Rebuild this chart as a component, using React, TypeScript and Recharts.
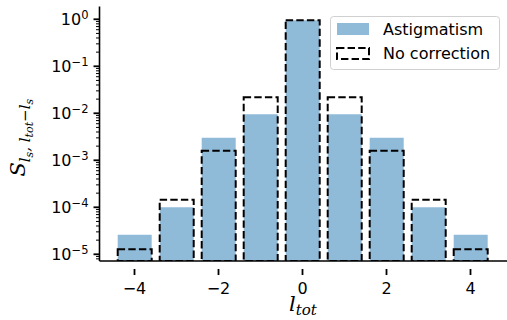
import React from 'react'
import { BarChart, Bar, XAxis, YAxis, Legend } from 'recharts'

// values
const L_TOT = [-4, -3, -2, -1, 0, 1, 2, 3, 4]
const ASTIGMATISM = [2.6e-5, 1.0e-4, 3.0e-3, 9.5e-3, 0.95, 9.5e-3, 3.0e-3, 1.0e-4, 2.6e-5]
const NO_CORRECTION = [1.28e-5, 1.45e-4, 1.6e-3, 2.2e-2, 0.95, 2.2e-2, 1.6e-3, 1.45e-4, 1.28e-5]
const X_TICK_LABELS = [-4, -2, 0, 2, 4]
const Y_MAJOR = [1e-5, 1e-4, 1e-3, 1e-2, 1e-1, 1e0]
const Y_MAJOR_LABELS = ['−5', '−4', '−3', '−2', '−1', '0']
const Y_DOMAIN = [7.2e-6, 1.87]

const BLUE = '#8fbbd9'
const FONT = 'DejaVu Sans, sans-serif'
const MATH = 'DejaVu Serif, serif'

const data = L_TOT.map((l, i) => ({ l, astig: ASTIGMATISM[i], nocorr: NO_CORRECTION[i] }))

// minor log ticks (2..9 x 10^n) inside the domain
const Y_MINOR: number[] = []
for (let e = -6; e <= 0; e++) {
  for (let k = 2; k <= 9; k++) {
    const v = k * Math.pow(10, e)
    if (v >= Y_DOMAIN[0] && v <= Y_DOMAIN[1]) Y_MINOR.push(v)
  }
}
const Y_TICKS = [...Y_MAJOR, ...Y_MINOR].sort((a, b) => a - b)

const YTick = (props: any) => {
  const { x, y, payload } = props
  const idx = Y_MAJOR.findIndex((v) => Math.abs(v - payload.value) / v < 1e-6)
  if (idx < 0) {
    return <line x1={x - 3.5} x2={x} y1={y} y2={y} stroke="#000" strokeWidth={1} />
  }
  return (
    <g>
      <line x1={x - 6} x2={x} y1={y} y2={y} stroke="#000" strokeWidth={1.8} />
      <text x={x - 11} y={y + 6} textAnchor="end" fontFamily={FONT} fontSize={16} fill="#000">
        <tspan>10</tspan>
        <tspan dy={-6.5} fontSize={11.5}>{Y_MAJOR_LABELS[idx]}</tspan>
      </text>
    </g>
  )
}

const XTick = (props: any) => {
  const { x, y, payload } = props
  if (!X_TICK_LABELS.includes(payload.value)) return <g />
  const v = payload.value
  const label = v < 0 ? `−${Math.abs(v)}` : `${v}`
  return (
    <g>
      <line x1={x} x2={x} y1={y} y2={y + 6} stroke="#000" strokeWidth={1.8} />
      <text x={x} y={y + 25} textAnchor="middle" fontFamily={FONT} fontSize={16} fill="#000">
        {label}
      </text>
    </g>
  )
}

const YLabel = (props: any) => {
  const vb = props.viewBox || { x: 0, y: 0, width: 0, height: 0 }
  const cx = vb.x + 25
  const cy = vb.y + vb.height / 2 + 4
  return (
    <text
      transform={`translate(${cx},${cy}) rotate(-90)`}
      textAnchor="middle"
      fontFamily={MATH}
      fontStyle="italic"
      fontSize={21}
      fill="#000"
    >
      <tspan>S</tspan>
      <tspan dy={5} fontSize={15}>l</tspan>
      <tspan dy={3} fontSize={11}>s</tspan>
      <tspan dy={-3} fontSize={15}>, l</tspan>
      <tspan dy={3} fontSize={11}>tot</tspan>
      <tspan dy={-3} fontSize={15}>−l</tspan>
      <tspan dy={3} fontSize={11}>s</tspan>
    </text>
  )
}

const XLabel = (props: any) => {
  const vb = props.viewBox || { x: 0, y: 0, width: 0, height: 0 }
  return (
    <text x={303} y={vb.y + 50} textAnchor="middle" fontFamily={MATH} fontStyle="italic" fontSize={21} fill="#000">
      <tspan>l</tspan>
      <tspan dy={4} fontSize={15}>tot</tspan>
    </text>
  )
}

const LegendBox = () => (
  <svg width={170} height={54} style={{ display: 'block' }}>
    <rect x={0.5} y={0.5} width={169} height={53} rx={3} fill="#fff" fillOpacity={0.8} stroke="#d0d0d0" />
    <rect x={7} y={7} width={32} height={12} fill={BLUE} />
    <text x={53} y={19} fontFamily={FONT} fontSize={16} fill="#000">Astigmatism</text>
    <rect x={7} y={32} width={32} height={11} fill="none" stroke="#000" strokeWidth={2} strokeDasharray="7.4 3.2" />
    <text x={53} y={43} fontFamily={FONT} fontSize={16} fill="#000">No correction</text>
  </svg>
)

export default function App() {
  return (
    <div style={{ position: 'absolute', left: 0, top: 0, width: 507, height: 320, overflow: 'hidden', background: '#fff' }}>
      <BarChart
        width={515}
        height={320}
        data={data}
        margin={{ top: 6.5, right: 0, bottom: 0, left: 0 }}
        barCategoryGap="10%"
      >
        <XAxis
          xAxisId="a"
          dataKey="l"
          height={59}
          padding={{ left: 14, right: 23.5 }}
          interval={0}
          tickLine={false}
          tick={<XTick />}
          axisLine={{ stroke: '#000', strokeWidth: 1.6 }}
          label={<XLabel />}
        />
        <XAxis
          xAxisId="b"
          dataKey="l"
          orientation="top"
          height={0}
          padding={{ left: 14, right: 23.5 }}
          tick={false}
          tickLine={false}
          axisLine={{ stroke: '#555', strokeWidth: 1 }}
        />
        <YAxis
          scale="log"
          domain={Y_DOMAIN}
          allowDataOverflow
          width={99.5}
          ticks={Y_TICKS}
          interval={0}
          tickSize={0}
          tickMargin={0}
          tickLine={false}
          tick={<YTick />}
          axisLine={{ stroke: '#000', strokeWidth: 1.6 }}
          label={<YLabel />}
        />
        <Legend
          layout="vertical"
          align="center"
          verticalAlign="middle"
          content={<LegendBox />}
          wrapperStyle={{ left: 330, top: 16, width: 170, height: 54 }}
        />
        <Bar xAxisId="a" dataKey="astig" name="Astigmatism" fill={BLUE} isAnimationActive={false} />
        <Bar
          xAxisId="b"
          dataKey="nocorr"
          name="No correction"
          fill="none"
          stroke="#000"
          strokeWidth={2}
          strokeDasharray="7.4 3.2"
          isAnimationActive={false}
        />
      </BarChart>
    </div>
  )
}
